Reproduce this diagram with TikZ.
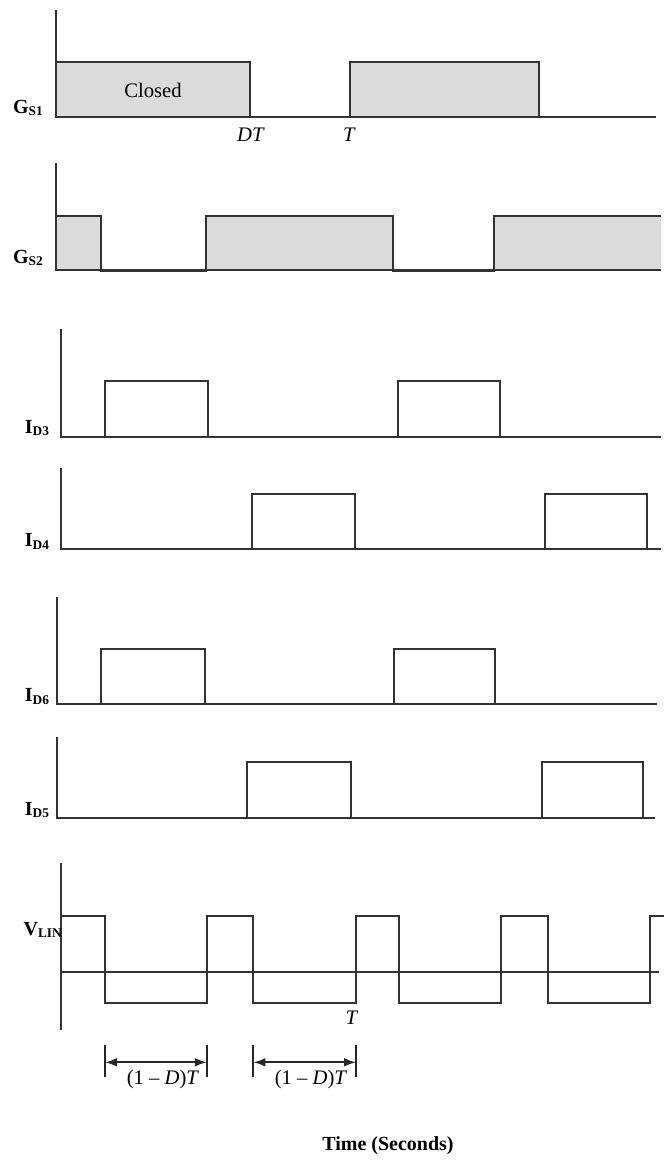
\documentclass[tikz,border=0pt]{standalone}
\usepackage{fontspec}
\setmainfont{Liberation Serif}
\usetikzlibrary{arrows.meta}
\newcommand{\siglab}[2]{\textbf{#1\raisebox{-0.3ex}{\fontsize{10}{11}\selectfont #2}}}
\begin{document}
\begin{tikzpicture}[x=0.75pt,y=-0.75pt,
  wave/.style={draw=black!80, line width=1.5pt, line join=miter},
  axisline/.style={draw=black!80, line width=1.5pt},
  gfill/.style={fill=black!14},
  lbl/.style={inner sep=0pt, font=\fontsize{15}{17}\selectfont},
  txt/.style={inner sep=0pt, font=\fontsize{15.5}{17}\selectfont},
  tick/.style={draw=black!85, line width=1.5pt},
  dimarrow/.style={draw=black!85, line width=1.3pt, {Latex[length=9pt,width=6.5pt]}-{Latex[length=9pt,width=6.5pt]}}]
\useasboundingbox[fill=white] (0,0) rectangle (664,1160);

% ---------- G_S1 ----------
\fill[gfill] (56.4,61.7) rectangle (250,117.3);
\fill[gfill] (349.6,61.7) rectangle (539.4,117.3);
\draw[axisline] (56.4,10) -- (56.4,117.3) -- (656,117.3);
\draw[wave] (56.4,61.7) -- (250,61.7) -- (250,117.3);
\draw[wave] (349.6,117.3) -- (349.6,61.7) -- (539.4,61.7) -- (539.4,117.3);
\node[lbl] (gs1) at (28,108) {\siglab{G}{S1}};
\node[txt] (closed) at (153,90) {Closed};
\node[txt] (dt) at (251,135) {\textit{DT}};
\node[txt] (t1) at (349.6,135) {\textit{T}};

% ---------- G_S2 ----------
\fill[gfill] (56.4,215.7) rectangle (100.8,270);
\fill[gfill] (205.5,215.7) rectangle (392.8,270);
\fill[gfill] (493.6,215.7) rectangle (661,270);
\draw[axisline] (56.4,163) -- (56.4,270) -- (661,270);
\draw[wave] (56.4,215.7) -- (100.8,215.7) -- (100.8,271) -- (205.5,271) -- (205.5,215.7)
  -- (392.8,215.7) -- (392.8,271) -- (493.6,271) -- (493.6,215.7) -- (661,215.7);
\node[lbl] (gs2) at (28,258) {\siglab{G}{S2}};

% ---------- I_D3 ----------
\draw[axisline] (61.4,329) -- (61.4,436.7) -- (661,436.7);
\draw[wave] (105,436.7) -- (105,381) -- (207.6,381) -- (207.6,436.7);
\draw[wave] (397.5,436.7) -- (397.5,381) -- (500,381) -- (500,436.7);
\node[lbl] (id3) at (37,428) {\siglab{I}{D3}};

% ---------- I_D4 ----------
\draw[axisline] (61.4,468) -- (61.4,549.3) -- (661,549.3);
\draw[wave] (252,549.3) -- (252,494) -- (355,494) -- (355,549.3);
\draw[wave] (545,549.3) -- (545,494) -- (647,494) -- (647,549.3);
\node[lbl] (id4) at (37,541.7) {\siglab{I}{D4}};

% ---------- I_D6 ----------
\draw[axisline] (57.2,597) -- (57.2,704.3) -- (656.8,704.3);
\draw[wave] (100.8,704.3) -- (100.8,649) -- (204.7,649) -- (204.7,704.3);
\draw[wave] (394,704.3) -- (394,649) -- (495,649) -- (495,704.3);
\node[lbl] (id6) at (37,696.7) {\siglab{I}{D6}};

% ---------- I_D5 ----------
\draw[axisline] (57.2,736.7) -- (57.2,817.7) -- (654.7,817.7);
\draw[wave] (247,817.7) -- (247,761.7) -- (350.8,761.7) -- (350.8,817.7);
\draw[wave] (541.5,817.7) -- (541.5,761.7) -- (642.8,761.7) -- (642.8,817.7);
\node[lbl] (id5) at (37,810) {\siglab{I}{D5}};

% ---------- V_LIN ----------
\draw[axisline] (61.4,863.3) -- (61.4,1030);
\draw[axisline] (61.4,971.7) -- (659,971.7);
\draw[wave] (61.4,915.7) -- (105,915.7) -- (105,1003.3) -- (206.8,1003.3) -- (206.8,915.7)
  -- (253.4,915.7) -- (253.4,1003.3) -- (356,1003.3) -- (356,915.7)
  -- (399,915.7) -- (399,1003.3) -- (501,1003.3) -- (501,915.7)
  -- (548,915.7) -- (548,1003.3) -- (649.6,1003.3) -- (649.6,915.7) -- (664,915.7);
\node[lbl, anchor=east] (vlin) at (62,930) {\siglab{V}{LIN}};
\node[txt] (t2) at (352,1018) {\textit{T}};

% ---------- dimensions ----------
\coordinate (k1t) at (105,1045);   \coordinate (k1b) at (105,1076.7);
\coordinate (k2t) at (206.8,1045); \coordinate (k2b) at (206.8,1076.7);
\coordinate (k3t) at (253.4,1045); \coordinate (k3b) at (253.4,1076.7);
\coordinate (k4t) at (356,1045);   \coordinate (k4b) at (356,1076.7);
\draw[tick] (k1t) -- (k1b);
\draw[tick] (k2t) -- (k2b);
\draw[tick] (k3t) -- (k3b);
\draw[tick] (k4t) -- (k4b);
\coordinate (a1) at (105,1062.3);   \coordinate (a2) at (206.8,1062.3);
\coordinate (a3) at (253.4,1062.3); \coordinate (a4) at (356,1062.3);
\draw[dimarrow] (a1) -- (a2);
\draw[dimarrow] (a3) -- (a4);
\node[txt] (d1) at (163,1080) {(1 \textendash\ \textit{D})\textit{T}};
\node[txt] (d2) at (311,1080) {(1 \textendash\ \textit{D})\textit{T}};

\node[lbl] (time) at (388,1146) {\textbf{Time (Seconds)}};
\end{tikzpicture}
\end{document}
